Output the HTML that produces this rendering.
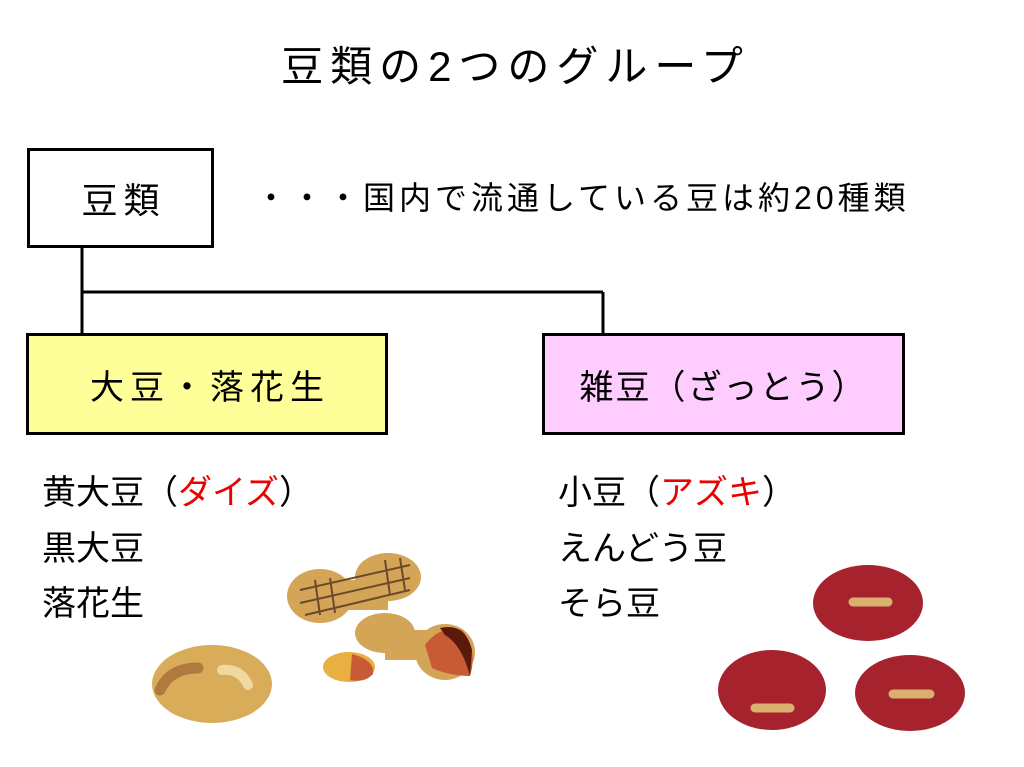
<!DOCTYPE html>
<html><head><meta charset="utf-8"><style>
html,body{margin:0;padding:0;background:#fff;}
body{width:1024px;height:767px;position:relative;overflow:hidden;font-family:"Liberation Sans","Noto Sans CJK JP",sans-serif;color:#000;}
.t{position:absolute;white-space:nowrap;line-height:1;}
.box{position:absolute;border:3px solid #000;box-sizing:border-box;display:flex;align-items:center;justify-content:center;font-size:34px;}
.r{color:#e00;}
</style></head><body>
<div class="t" style="left:0;width:1024px;text-align:center;top:46px;font-size:42px;letter-spacing:7px;padding-left:7px;box-sizing:border-box;">豆類の2つのグループ</div>
<svg width="1024" height="767" style="position:absolute;left:0;top:0">
<g stroke="#000" stroke-width="3" fill="none">
<line x1="82" y1="247" x2="82" y2="334"/>
<line x1="82" y1="292" x2="603" y2="292"/>
<line x1="603" y1="292" x2="603" y2="334"/>
</g>
<ellipse cx="212" cy="684" rx="60" ry="39" fill="#d9ac5a"/>
<path d="M160 690 Q170 668 198 668" stroke="#b07a3e" stroke-width="11" fill="none" stroke-linecap="round"/>
<path d="M222 670 Q240 668 248 685" stroke="#efd9a0" stroke-width="10" fill="none" stroke-linecap="round"/>
<g fill="#d4a457">
<ellipse cx="320" cy="596" rx="33" ry="27"/>
<ellipse cx="388" cy="577" rx="33" ry="24"/>
<rect x="320" y="580" width="68" height="30"/>
</g>
<g stroke="#6b4a2a" stroke-width="2">
<line x1="300" y1="590" x2="410" y2="565"/><line x1="300" y1="603" x2="410" y2="578"/><line x1="305" y1="615" x2="410" y2="590"/>
<line x1="315" y1="580" x2="320" y2="615"/><line x1="330" y1="578" x2="335" y2="613"/><line x1="385" y1="560" x2="390" y2="595"/><line x1="400" y1="558" x2="405" y2="590"/>
</g>
<g fill="#d4a457">
<ellipse cx="385" cy="633" rx="30" ry="20"/>
<ellipse cx="445" cy="652" rx="30" ry="28"/>
<rect x="385" y="630" width="60" height="30"/>
</g>
<path d="M425 645 Q440 625 462 630 Q478 650 470 676 Q450 676 432 668 Z" fill="#c85a35"/>
<path d="M440 628 Q465 622 472 650 L470 676 Q462 645 445 635 Z" fill="#5a1a0a"/>
<ellipse cx="349" cy="667" rx="26" ry="15" fill="#e8b040"/>
<path d="M352 654 Q375 660 373 674 Q365 683 350 680 Z" fill="#c85a35"/>
<g fill="#a6232e">
<ellipse cx="868" cy="603" rx="55" ry="38"/>
<ellipse cx="772" cy="690" rx="54" ry="40"/>
<ellipse cx="910" cy="693" rx="55" ry="38"/>
</g>
<g stroke="#d9b070" stroke-width="9" stroke-linecap="round" fill="none">
<line x1="853" y1="602" x2="888" y2="602"/>
<line x1="755" y1="708" x2="790" y2="708"/>
<line x1="893" y1="694" x2="930" y2="694"/>
</g>
</svg>
<div class="box" style="left:27px;top:148px;width:187px;height:100px;font-size:36px;letter-spacing:6px;padding-left:6px;">豆類</div>
<div class="t" style="left:255px;top:182px;font-size:32px;letter-spacing:4px;">・・・国内で流通している豆は約20種類</div>
<div class="box" style="left:26px;top:333px;width:362px;height:102px;background:#ffff99;letter-spacing:6px;padding-left:6px;">大豆・落花生</div>
<div class="box" style="left:542px;top:333px;width:363px;height:102px;background:#ffccff;letter-spacing:2px;">雑豆（ざっとう）</div>
<div class="t" style="left:42px;top:476px;font-size:34px;">黄大豆（<span class="r">ダイズ</span>）</div>
<div class="t" style="left:42px;top:532px;font-size:34px;">黒大豆</div>
<div class="t" style="left:42px;top:587px;font-size:34px;">落花生</div>
<div class="t" style="left:558px;top:476px;font-size:34px;">小豆（<span class="r">アズキ</span>）</div>
<div class="t" style="left:558px;top:532px;font-size:34px;">えんどう豆</div>
<div class="t" style="left:558px;top:587px;font-size:34px;">そら豆</div>
</body></html>
